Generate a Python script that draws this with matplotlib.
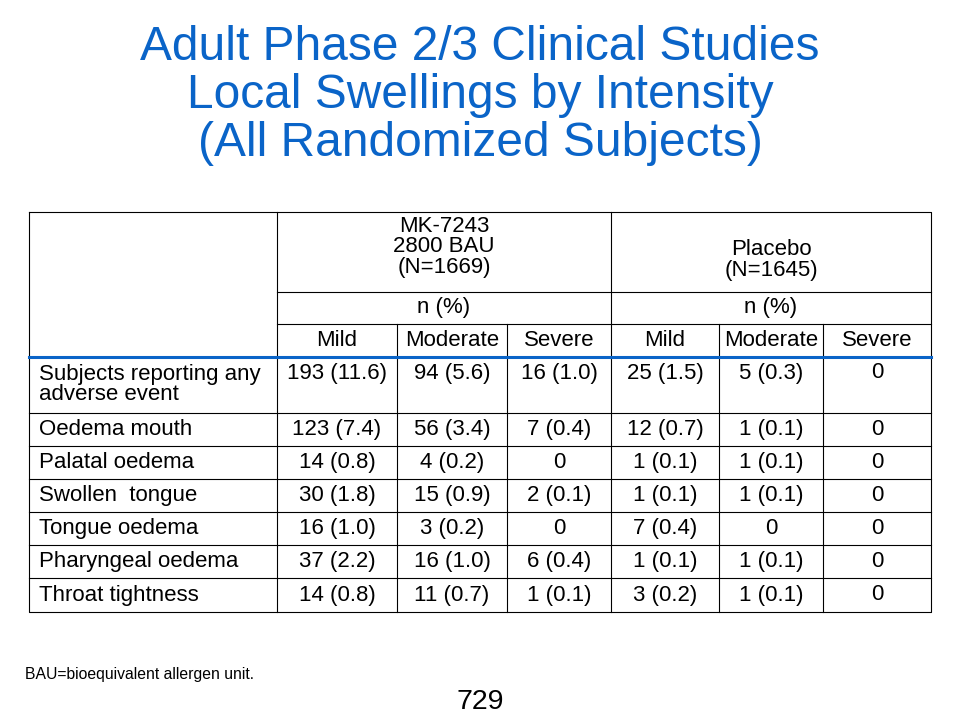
import matplotlib.pyplot as plt

plt.rcParams['font.family'] = ['Liberation Sans', 'DejaVu Sans']

title_lines = ["Adult Phase 2/3 Clinical Studies", "Local Swellings by Intensity",
               "(All Randomized Subjects)"]
groups = ["MK-7243\n2800 BAU\n(N=1669)", "Placebo\n(N=1645)"]
intensities = ["Mild", "Moderate", "Severe"]
row_labels = ["Subjects reporting any\nadverse event", "Oedema mouth", "Palatal oedema",
              "Swollen  tongue", "Tongue oedema", "Pharyngeal oedema", "Throat tightness"]
values = [
    ["193 (11.6)", "94 (5.6)", "16 (1.0)", "25 (1.5)", "5 (0.3)", "0"],
    ["123 (7.4)", "56 (3.4)", "7 (0.4)", "12 (0.7)", "1 (0.1)", "0"],
    ["14 (0.8)", "4 (0.2)", "0", "1 (0.1)", "1 (0.1)", "0"],
    ["30 (1.8)", "15 (0.9)", "2 (0.1)", "1 (0.1)", "1 (0.1)", "0"],
    ["16 (1.0)", "3 (0.2)", "0", "7 (0.4)", "0", "0"],
    ["37 (2.2)", "16 (1.0)", "6 (0.4)", "1 (0.1)", "1 (0.1)", "0"],
    ["14 (0.8)", "11 (0.7)", "1 (0.1)", "3 (0.2)", "1 (0.1)", "0"],
]

# layout in pixels
col_x = [29, 277, 397, 507, 611, 719, 823, 931]
head_y = [212, 292, 324, 357]
row_y = [357, 413, 446, 479, 512, 545, 578, 612]
blue = "#0a64c8"
fs = 16

fig = plt.figure(figsize=(9.6, 7.2), dpi=100)
ax = fig.add_axes([0, 0, 1, 1])
ax.set_xlim(0, 960)
ax.set_ylim(720, 0)
ax.axis("off")

for i, t in enumerate(title_lines):
    ax.text(480, 47 + 48 * i, t, ha="center", va="center", fontsize=34.5, color=blue)

lw = 0.8
# outer border
ax.plot([col_x[0], col_x[-1], col_x[-1], col_x[0], col_x[0]],
        [head_y[0], head_y[0], row_y[-1], row_y[-1], head_y[0]], color="black", lw=lw)
# header lines
ax.plot([col_x[1], col_x[1]], [head_y[0], head_y[-1]], color="black", lw=lw)
ax.plot([col_x[4], col_x[4]], [head_y[0], head_y[-1]], color="black", lw=lw)
for y in head_y[1:3]:
    ax.plot([col_x[1], col_x[-1]], [y, y], color="black", lw=lw)
for x in col_x[2:4] + col_x[5:7]:
    ax.plot([x, x], [head_y[2], head_y[3]], color="black", lw=lw)
# body lines
for x in col_x[1:-1]:
    ax.plot([x, x], [row_y[0], row_y[-1]], color="black", lw=lw)
for y in row_y[1:-1]:
    ax.plot([col_x[0], col_x[-1]], [y, y], color="black", lw=lw)
ax.plot([col_x[0], col_x[-1]], [row_y[0], row_y[0]], color=blue, lw=2.2)

# header text
ax.text((col_x[1] + col_x[4]) / 2, 247, groups[0], ha="center", va="center",
        fontsize=fs, linespacing=0.95)
ax.text((col_x[4] + col_x[7]) / 2, 260, groups[1], ha="center", va="center",
        fontsize=fs, linespacing=0.95)
for g in range(2):
    a, b = col_x[1 + 3 * g], col_x[4 + 3 * g]
    ax.text((a + b) / 2, (head_y[1] + head_y[2]) / 2, "n (%)", ha="center",
            va="center", fontsize=fs)
    for k, lab in enumerate(intensities):
        c = 1 + 3 * g + k
        ax.text((col_x[c] + col_x[c + 1]) / 2, (head_y[2] + head_y[3]) / 2, lab,
                ha="center", va="center", fontsize=fs)

# body text
for r, (lab, vals) in enumerate(zip(row_labels, values)):
    if r == 0:
        ax.text(39, 384.5, lab, ha="left", va="center", fontsize=fs, linespacing=0.95)
        yv = 373
    else:
        yv = (row_y[r] + row_y[r + 1]) / 2
        ax.text(39, yv, lab, ha="left", va="center", fontsize=fs)
    for c, v in enumerate(vals):
        ax.text((col_x[c + 1] + col_x[c + 2]) / 2, yv, v, ha="center",
                va="center", fontsize=fs)

ax.text(25, 675, "BAU=bioequivalent allergen unit.", ha="left", va="center", fontsize=11.3)
ax.text(480, 702, "729", ha="center", va="center", fontsize=20.5)

fig.savefig("out.png", dpi=100)
